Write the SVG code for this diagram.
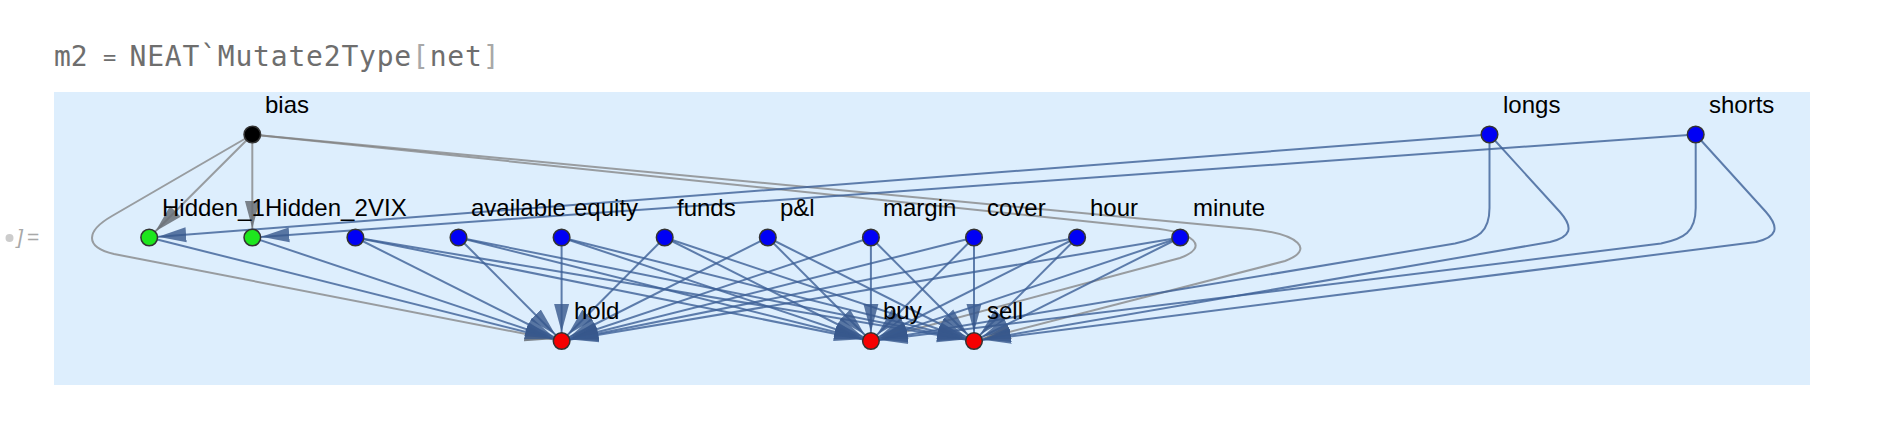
<svg xmlns="http://www.w3.org/2000/svg" width="1880" height="438" viewBox="0 0 1880 438">
<style>
.bg{fill:#ddeefd}
.e{fill:none;stroke:rgb(60,95,150);stroke-opacity:0.8;stroke-width:2;marker-end:url(#mb)}
.g{fill:none;stroke:rgb(128,128,128);stroke-opacity:0.75;stroke-width:2;marker-end:url(#mg)}
.n circle{stroke:#333333;stroke-width:1.5}
.n text{font-family:"Liberation Sans",Arial,sans-serif;font-size:24px;fill:#000}
.in circle{fill:#0000f5}
.out circle{fill:#f50000}
.hid circle{fill:#1ee61e}
.bias circle{fill:#000}
.title{font-family:"DejaVu Sans Mono","Liberation Mono",monospace;fill:#6e6e6e}
</style>
<defs>
<marker id="mb" markerUnits="userSpaceOnUse" markerWidth="28" markerHeight="18" viewBox="0 -9 28 18" refX="37" refY="0" orient="auto">
<path d="M0,-7.5 L28,0 L0,7.5 Z" fill="rgb(55,88,140)" fill-opacity="0.8"/>
</marker>
<marker id="mg" markerUnits="userSpaceOnUse" markerWidth="28" markerHeight="18" viewBox="0 -9 28 18" refX="37" refY="0" orient="auto">
<path d="M0,-7.5 L28,0 L0,7.5 Z" fill="rgb(105,110,118)" fill-opacity="0.85"/>
</marker>
</defs>

<text class="title" x="54" y="66" font-size="28">m2</text>
<text class="title" x="109.5" y="65" font-size="22" text-anchor="middle">=</text>
<text class="title" x="129.5" y="66" font-size="28" textLength="370" lengthAdjust="spacing">NEAT`Mutate2Type<tspan fill="#a8a8a8">[</tspan>net<tspan fill="#a8a8a8">]</tspan></text>

<circle cx="9.5" cy="238" r="4" fill="#cccccc"/>
<text x="17" y="244" font-family="'Liberation Sans',Arial,sans-serif" font-style="italic" font-size="21" fill="#a8a8a8">]</text>
<text x="27" y="244" font-family="'Liberation Sans',Arial,sans-serif" font-size="21" fill="#a8a8a8">=</text>

<rect class="bg" x="54" y="92" width="1756" height="293"/>

<g id="connectors">
<path class="g" d="M252.3 134.5 L149.2 237.5"/>
<path class="g" d="M252.3 134.5 L252.3 237.5"/>
<path class="g" d="M252.3 134.5 L112 216 C86 231 84 247 114 254 L561.6 341"/>
<path class="g" d="M252.3 134.5 L1150 228 C1195 232 1210 247 1180 258 L870.9 341"/>
<path class="g" d="M252.3 134.5 L1250 229 C1300 234 1315 250 1285 261 L974 341"/>

<path class="e" d="M1489.5 134.5 L149.2 237.5"/>
<path class="e" d="M1695.7 134.5 L252.3 237.5"/>
<path class="e" d="M1489.5 134.5 L1489.5 208 C1489.5 232 1478 239 1455 243.5 L870.9 341"/>
<path class="e" d="M1489.5 134.5 L1560 212 C1574 228 1571 237 1550 242 L974 341"/>
<path class="e" d="M1695.7 134.5 L1695.7 208 C1695.7 232 1684 239 1661 243.5 L870.9 341"/>
<path class="e" d="M1695.7 134.5 L1766 212 C1780 228 1777 237 1756 242 L974 341"/>

<path class="e" d="M149.2 237.5 L561.6 341"/>
<path class="e" d="M252.3 237.5 L561.6 341"/>

<path class="e" d="M355.4 237.5 L561.6 341"/>
<path class="e" d="M355.4 237.5 L870.9 341"/>
<path class="e" d="M355.4 237.5 L974 341"/>
<path class="e" d="M458.5 237.5 L561.6 341"/>
<path class="e" d="M458.5 237.5 L870.9 341"/>
<path class="e" d="M458.5 237.5 L974 341"/>
<path class="e" d="M561.6 237.5 L561.6 341"/>
<path class="e" d="M561.6 237.5 L870.9 341"/>
<path class="e" d="M561.6 237.5 L974 341"/>
<path class="e" d="M664.7 237.5 L561.6 341"/>
<path class="e" d="M664.7 237.5 L870.9 341"/>
<path class="e" d="M664.7 237.5 L974 341"/>
<path class="e" d="M767.8 237.5 L561.6 341"/>
<path class="e" d="M767.8 237.5 L870.9 341"/>
<path class="e" d="M767.8 237.5 L974 341"/>
<path class="e" d="M870.9 237.5 L561.6 341"/>
<path class="e" d="M870.9 237.5 L870.9 341"/>
<path class="e" d="M870.9 237.5 L974 341"/>
<path class="e" d="M974 237.5 L561.6 341"/>
<path class="e" d="M974 237.5 L870.9 341"/>
<path class="e" d="M974 237.5 L974 341"/>
<path class="e" d="M1077.1 237.5 L561.6 341"/>
<path class="e" d="M1077.1 237.5 L870.9 341"/>
<path class="e" d="M1077.1 237.5 L974 341"/>
<path class="e" d="M1180.2 237.5 L561.6 341"/>
<path class="e" d="M1180.2 237.5 L870.9 341"/>
<path class="e" d="M1180.2 237.5 L974 341"/>
</g>

<g id="bias" class="n bias"><circle cx="252.3" cy="134.5" r="8.3"/><text x="265" y="113">bias</text></g>
<g id="longs" class="n in"><circle cx="1489.5" cy="134.5" r="8.3"/><text x="1503" y="113">longs</text></g>
<g id="shorts" class="n in"><circle cx="1695.7" cy="134.5" r="8.3"/><text x="1709" y="113">shorts</text></g>
<g id="Hidden_1" class="n hid"><circle cx="149.2" cy="237.5" r="8.3"/><text x="162" y="216">Hidden_1</text></g>
<g id="Hidden_2" class="n hid"><circle cx="252.3" cy="237.5" r="8.3"/><text x="265" y="216">Hidden_2</text></g>
<g id="VIX" class="n in"><circle cx="355.4" cy="237.5" r="8.3"/><text x="368" y="216">VIX</text></g>
<g id="available" class="n in"><circle cx="458.5" cy="237.5" r="8.3"/><text x="471" y="216">available</text></g>
<g id="equity" class="n in"><circle cx="561.6" cy="237.5" r="8.3"/><text x="574" y="216">equity</text></g>
<g id="funds" class="n in"><circle cx="664.7" cy="237.5" r="8.3"/><text x="677" y="216">funds</text></g>
<g id="pl" class="n in"><circle cx="767.8" cy="237.5" r="8.3"/><text x="780" y="216">p&amp;l</text></g>
<g id="margin" class="n in"><circle cx="870.9" cy="237.5" r="8.3"/><text x="883" y="216">margin</text></g>
<g id="cover" class="n in"><circle cx="974" cy="237.5" r="8.3"/><text x="987" y="216">cover</text></g>
<g id="hour" class="n in"><circle cx="1077.1" cy="237.5" r="8.3"/><text x="1090" y="216">hour</text></g>
<g id="minute" class="n in"><circle cx="1180.2" cy="237.5" r="8.3"/><text x="1193" y="216">minute</text></g>
<g id="hold" class="n out"><circle cx="561.6" cy="341" r="8.3"/><text x="574" y="319">hold</text></g>
<g id="buy" class="n out"><circle cx="870.9" cy="341" r="8.3"/><text x="883" y="319">buy</text></g>
<g id="sell" class="n out"><circle cx="974" cy="341" r="8.3"/><text x="987" y="319">sell</text></g>
</svg>
